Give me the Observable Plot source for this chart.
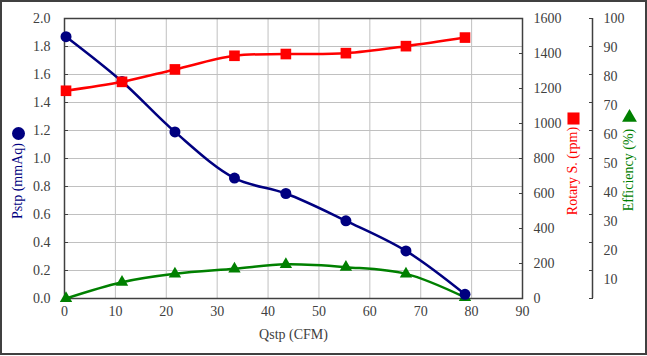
<!DOCTYPE html>
<html>
<head>
<meta charset="utf-8">
<script src="https://cdn.jsdelivr.net/npm/d3@7"></script>
<script src="https://cdn.jsdelivr.net/npm/@observablehq/plot@0.6"></script>
<style>
  html, body { margin: 0; padding: 0; background: #fff; }
  #wrap { position: relative; width: 647px; height: 356px; }
  #wrap svg, #wrap svg text { font-family: "Liberation Serif", "Times New Roman", serif !important; }
  #border { position: absolute; left: 0; top: 0; width: 647px; height: 355px; box-sizing: border-box; border: 2px solid #404040; pointer-events: none; }
  .vtitle { position: absolute; font-family: "Liberation Serif", serif; font-size: 14px; white-space: nowrap; line-height: 1; transform: translate(-50%, -50%) rotate(-90deg); }
</style>
</head>
<body>
<div id="wrap"><div id="border"></div></div>
<script>
// Data
const qstp = [0.3, 11.3, 21.7, 33.4, 43.5, 55.3, 67.1, 78.7];
const pstp = [1.87, 1.55, 1.19, 0.86, 0.75, 0.555, 0.34, 0.03];
const rpm  = [1187, 1238, 1309, 1387, 1397, 1402, 1442, 1491];
const eff  = [0, 5.8, 8.8, 10.6, 12.2, 11.2, 8.8, 0.4];

const xTicks = [0, 10, 20, 30, 40, 50, 60, 70, 80, 90];
const yTicks = [0, 0.2, 0.4, 0.6, 0.8, 1.0, 1.2, 1.4, 1.6, 1.8, 2.0];
const rpmTicks = [0, 200, 400, 600, 800, 1000, 1200, 1400, 1600];
const effTicks = [0, 10, 20, 30, 40, 50, 60, 70, 80, 90, 100];
const effLabels = [10, 20, 30, 40, 50, 60, 70, 80, 90, 100];

const xLabel = "Qstp (CFM)";
const yLabel = "Pstp (mmAq)";
const rpmLabel = "Rotary S. (rpm)";
const effLabel = "Efficiency (%)";

// Map secondary axes into primary (Pstp) units
const rpmMax = 1600, effMax = 100, yMax = 2;
const fromRpm = v => v / rpmMax * yMax;
const fromEff = v => v / effMax * yMax;
// the efficiency tick labels in the original are spaced slightly wider than its ticks
const effLabelSpread = 1.036;
const effLabelPos = v => yMax - (effMax - v) / effMax * yMax * effLabelSpread;

const rows = qstp.map((q, i) => ({q, p: pstp[i], r: fromRpm(rpm[i]), e: fromEff(eff[i])}));
const effLabelRows = effLabels.map(v => ({v, y: effLabelPos(v)}));

const navy = "#000080", red = "#ff0000", green = "#008000", axisGray = "#404040";

const chart = Plot.plot({
  width: 647,
  height: 356,
  marginLeft: 64,
  marginRight: 125,
  marginTop: 18,
  marginBottom: 58,
  style: {fontSize: "14px", color: axisGray, background: "transparent"},
  x: {domain: [0, 90]},
  y: {domain: [0, 2]},
  marks: [
    Plot.gridX(xTicks, {stroke: "#c0c0c0", strokeOpacity: 1}),
    Plot.gridY(yTicks, {stroke: "#c0c0c0", strokeOpacity: 1}),
    Plot.frame({stroke: axisGray, strokeWidth: 1.5}),
    // bottom axis
    Plot.axisX(xTicks, {tickSize: 0, tickPadding: 8, fill: axisGray, fontSize: 14, label: null}),
    Plot.text([xLabel], {frameAnchor: "bottom", dy: 40, fill: axisGray, fontSize: 14}),
    // left axis
    Plot.axisY(yTicks, {anchor: "left", tickSize: -4, stroke: axisGray, text: null, label: null}),
    Plot.axisY(yTicks, {anchor: "left", tickSize: 0, tickPadding: 14, tickFormat: d3.format(".1f"), fill: axisGray, fontSize: 14, label: null}),
    // right rpm axis
    Plot.axisY(rpmTicks.map(fromRpm), {anchor: "right", tickSize: -4, stroke: axisGray, text: null, label: null}),
    Plot.axisY(rpmTicks.map(fromRpm), {anchor: "right", tickSize: 0, tickPadding: 11, tickFormat: d => String(Math.round(d / yMax * rpmMax)), fill: axisGray, fontSize: 14, label: null}),
    // efficiency axis
    Plot.ruleX([90], {y1: 0, y2: 2, dx: 70, stroke: axisGray, strokeWidth: 1.5}),
    Plot.axisY(effTicks.map(fromEff), {anchor: "right", dx: 70, tickSize: -4, stroke: axisGray, text: null, label: null}),
    Plot.text(effLabelRows, {x: 90, y: "y", text: d => String(d.v), dx: 81, textAnchor: "start", fill: axisGray, fontSize: 14}),
    // legend markers beside the axis titles
    Plot.dot([0], {frameAnchor: "left", dx: -46, dy: -25, r: 6.5, fill: navy, stroke: null}),
    Plot.dot([0], {frameAnchor: "right", dx: 51, dy: -40, symbol: "square", r: 6.8, fill: red, stroke: null}),
    Plot.dot([0], {frameAnchor: "right", dx: 107, dy: -41, symbol: "triangle", r: 5.5, fill: green, stroke: null}),
    // series
    Plot.line(rows, {x: "q", y: "e", stroke: green, strokeWidth: 2.5, curve: "catmull-rom"}),
    Plot.dot(rows, {x: "q", y: "e", symbol: "triangle", r: 4.6, fill: green, stroke: null}),
    Plot.line(rows, {x: "q", y: "p", stroke: navy, strokeWidth: 2.5, curve: "catmull-rom"}),
    Plot.dot(rows, {x: "q", y: "p", r: 5.5, fill: navy, stroke: null}),
    Plot.line(rows, {x: "q", y: "r", stroke: red, strokeWidth: 2.5, curve: "catmull-rom"}),
    Plot.dot(rows, {x: "q", y: "r", symbol: "square", r: 6, fill: red, stroke: null})
  ]
});
const wrap = document.getElementById("wrap");
wrap.prepend(chart);

function vtitle(text, color, cx, cy) {
  const d = document.createElement("div");
  d.className = "vtitle";
  d.textContent = text;
  d.style.color = color;
  d.style.left = cx + "px";
  d.style.top = cy + "px";
  wrap.appendChild(d);
}
vtitle(yLabel, navy, 18, 181);
vtitle(rpmLabel, red, 573, 171);
vtitle(effLabel, green, 629, 170);
</script>
</body>
</html>
